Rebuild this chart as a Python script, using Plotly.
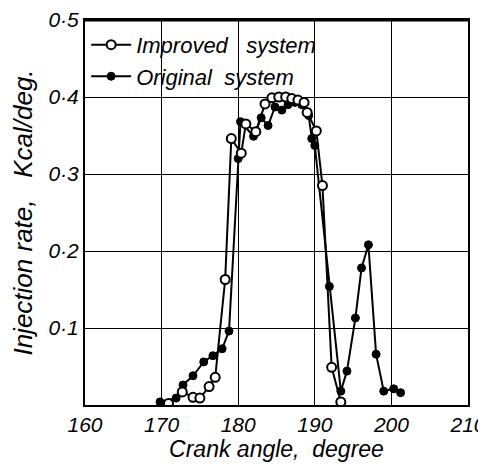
import plotly.graph_objects as go

# Improved system (open circles)
improved_angle = [170.9, 172.7, 174.1, 175.0, 176.2, 177.0, 178.3, 179.1, 180.4, 181.0,
                  182.3, 183.5, 184.4, 185.3, 186.2, 187.0, 187.8, 188.6, 189.0, 190.2,
                  191.0, 192.2, 193.4]
improved_rate = [0.002, 0.017, 0.010, 0.009, 0.024, 0.036, 0.163, 0.346, 0.327, 0.365,
                 0.355, 0.391, 0.399, 0.400, 0.400, 0.398, 0.396, 0.393, 0.380, 0.356,
                 0.285, 0.049, 0.004]

# Original system (filled circles)
original_angle = [169.8, 171.9, 172.8, 174.1, 175.5, 176.7, 177.9, 178.8, 180.0, 180.3,
                  182.0, 183.0, 183.9, 184.8, 185.7, 186.5, 187.4, 188.3, 189.2, 189.6,
                  190.0, 191.9, 193.4, 194.2, 195.3, 196.1, 197.0, 198.0, 199.0, 200.3,
                  201.2]
original_rate = [0.004, 0.009, 0.026, 0.038, 0.056, 0.064, 0.073, 0.096, 0.320, 0.368,
                 0.349, 0.373, 0.363, 0.387, 0.383, 0.390, 0.393, 0.390, 0.376, 0.346,
                 0.337, 0.154, 0.018, 0.044, 0.113, 0.178, 0.208, 0.066, 0.018, 0.021,
                 0.016]

x_ticks = [160, 170, 180, 190, 200, 210]
x_ticklabels = ["160", "170", "180", "190", "200", "210"]
y_ticks = [0.1, 0.2, 0.3, 0.4, 0.5]
y_ticklabels = ["0·1", "0·2", "0·3", "0·4", "0·5"]

FONT = "Liberation Sans"

fig = go.Figure()
fig.add_trace(go.Scatter(
    x=original_angle, y=original_rate, mode="lines+markers",
    name="Original  system",
    line=dict(color="black", width=2),
    marker=dict(symbol="circle", size=8, color="black", line=dict(color="black", width=1)),
))
fig.add_trace(go.Scatter(
    x=improved_angle, y=improved_rate, mode="lines+markers",
    name="Improved   system",
    line=dict(color="black", width=2),
    marker=dict(symbol="circle", size=9, color="white", line=dict(color="black", width=2)),
))

# white panel behind the legend, hiding the grid there (drawn between grid and traces)
fig.add_shape(type="rect", xref="paper", yref="paper",
              x0=0, x1=0.75, y0=0.83, y1=0.99,
              fillcolor="white", line=dict(width=0), layer="between")
# heavy top border of the frame
fig.add_shape(type="line", xref="paper", yref="paper",
              x0=0, x1=1, y0=1, y1=1,
              line=dict(color="black", width=3), layer="above")

# page body has an 8px margin; the figure is placed at (8, 8) in the window
fig.update_layout(
    width=478, height=462,
    margin=dict(l=77, r=18, t=12, b=65, autoexpand=False),
    paper_bgcolor="white", plot_bgcolor="white",
    showlegend=True,
    legend=dict(
        x=0.003, y=0.99, xanchor="left", yanchor="top",
        bgcolor="rgba(0,0,0,0)", borderwidth=0,
        font=dict(family=FONT, size=22, color="black", style="italic"),
        traceorder="reversed",
        itemwidth=40,
        tracegroupgap=0,
    ),
    xaxis=dict(
        range=[160, 210],
        tickvals=x_ticks, ticktext=x_ticklabels,
        showgrid=True, gridcolor="black", gridwidth=1,
        showline=True, linecolor="black", linewidth=2, mirror=True,
        ticks="", zeroline=False,
        tickfont=dict(family=FONT, size=21, color="black", style="italic"),
        title=dict(text="Crank angle,  degree", standoff=6,
                   font=dict(family=FONT, size=23, color="black", style="italic")),
    ),
    yaxis=dict(
        range=[0, 0.5],
        tickvals=y_ticks, ticktext=y_ticklabels,
        showgrid=True, gridcolor="black", gridwidth=1,
        showline=True, linecolor="black", linewidth=2, mirror=True,
        ticks="", zeroline=False,
        tickfont=dict(family=FONT, size=21, color="black", style="italic"),
        title=dict(text="Injection rate,   Kcal/deg.", standoff=8,
                   font=dict(family=FONT, size=26, color="black", style="italic")),
    ),
)

fig.write_html("out.html")
